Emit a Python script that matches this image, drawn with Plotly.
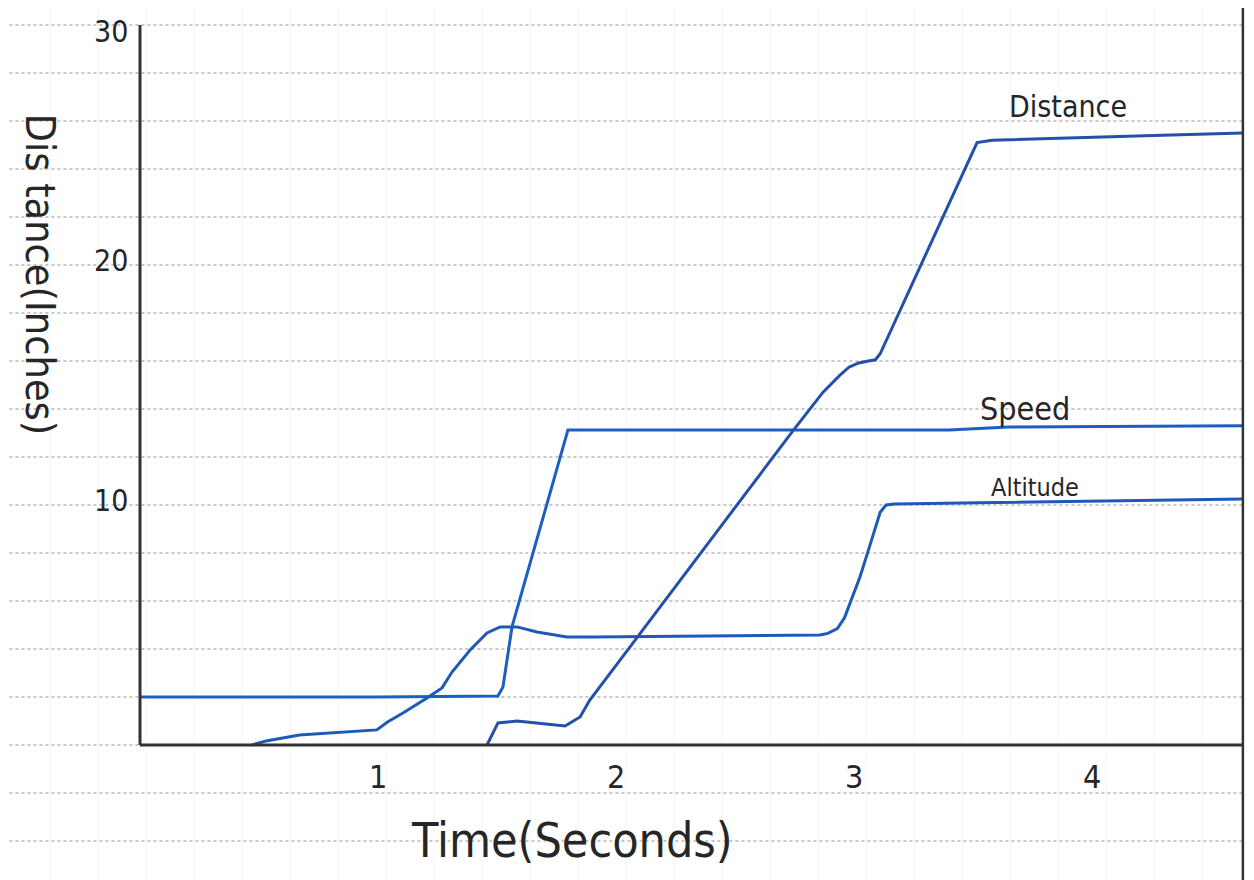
import plotly.graph_objects as go

# values (time in seconds, distance in inches)
speed_time = [0, 0.5, 1.0, 1.504, 1.525, 1.563, 1.798, 2.5, 3.4, 3.65, 4.634]
speed_vals = [2.0, 2.0, 2.0, 2.04, 2.42, 4.92, 13.12, 13.12, 13.13, 13.25, 13.3]

altitude_time = [0.47, 0.53, 0.67, 0.88, 0.995, 1.04, 1.105, 1.206, 1.269, 1.311, 1.387, 1.458,
                 1.513, 1.584, 1.668, 1.794, 1.903, 2.5, 2.857, 2.89, 2.93, 2.96, 2.99, 3.025,
                 3.06, 3.09, 3.11, 3.135, 3.17, 3.6, 4.634]
altitude_vals = [0, 0.17, 0.42, 0.54, 0.63, 0.96, 1.33, 1.96, 2.38, 3.04, 3.96, 4.67,
                 4.92, 4.92, 4.71, 4.5, 4.5, 4.55, 4.58, 4.65, 4.85, 5.3, 6.1, 7.0,
                 8.1, 9.1, 9.7, 10.0, 10.04, 10.1, 10.25]

distance_time = [1.458, 1.504, 1.584, 1.71, 1.786, 1.849, 1.89, 2.017, 2.689, 2.744, 2.87, 2.94,
                 2.98, 3.02, 3.06, 3.09, 3.11, 3.517, 3.58, 3.98, 4.26, 4.634]
distance_vals = [0, 0.92, 1.0, 0.875, 0.79, 1.17, 1.875, 3.54, 12.375, 13.1, 14.7, 15.4,
                 15.75, 15.92, 16.0, 16.05, 16.3, 25.1, 25.2, 25.3, 25.4, 25.5]

x_ticks = [1, 2, 3, 4]
y_ticks = [10, 20, 30]
paper_lines = list(range(-4, 31, 2))   # ruled lines of the notebook page

X_END = 4.634   # right edge of the page / end of the x axis
HAND = "DejaVu Sans Condensed, Liberation Sans Narrow, sans-serif"
INK = "#262626"

fig = go.Figure()

# notebook ruling
for yv in paper_lines:
    fig.add_shape(type="line", x0=-0.7, x1=X_END, y0=yv, y1=yv,
                  line=dict(color="#8f8f8f", width=1, dash="dot"), layer="below")
# faint vertical lines showing through the page
k = 0
while -0.378 + 0.2017 * k < X_END:
    xv = -0.378 + 0.2017 * k
    fig.add_shape(type="line", x0=xv, x1=xv, y0=-7, y1=32,
                  line=dict(color="#f4f4f4", width=1), layer="below")
    k += 1

# axes and page edge
fig.add_shape(type="line", x0=0, x1=0, y0=0, y1=30, line=dict(color="#333333", width=3))
fig.add_shape(type="line", x0=0, x1=X_END, y0=0, y1=0, line=dict(color="#333333", width=3))
fig.add_shape(type="line", x0=X_END, x1=X_END, y0=-7, y1=32, line=dict(color="#333333", width=2.5))

fig.add_trace(go.Scatter(x=speed_time, y=speed_vals, mode="lines", name="Speed",
                         line=dict(color="#1d5fc0", width=3)))
fig.add_trace(go.Scatter(x=altitude_time, y=altitude_vals, mode="lines", name="Altitude",
                         line=dict(color="#1d5ab8", width=3)))
fig.add_trace(go.Scatter(x=distance_time, y=distance_vals, mode="lines", name="Distance",
                         line=dict(color="#2350a8", width=3)))

# tick labels
for t in x_ticks:
    fig.add_annotation(x=t, y=-1.35, text=str(t), showarrow=False,
                       font=dict(family=HAND, size=32, color=INK))
for v in y_ticks:
    fig.add_annotation(x=-0.12, y=min(v + 0.2, 29.75), text=str(v), showarrow=False,
                       font=dict(family=HAND, size=30, color=INK))

# axis titles
fig.add_annotation(x=1.815, y=-3.95, text="Time(Seconds)", showarrow=False,
                   font=dict(family=HAND, size=48, color=INK))
fig.add_annotation(x=-0.42, y=19.6, text="Dis tance(Inches)", showarrow=False, textangle=90,
                   font=dict(family=HAND, size=41, color=INK))

# series labels written next to the lines
fig.add_annotation(x=3.90, y=26.6, text="Distance", showarrow=False,
                   font=dict(family=HAND, size=30, color=INK))
fig.add_annotation(x=3.72, y=14.0, text="Speed", showarrow=False,
                   font=dict(family=HAND, size=32, color=INK))
fig.add_annotation(x=3.76, y=10.75, text="Altitude", showarrow=False,
                   font=dict(family=HAND, size=25, color=INK))

# ranges set so the page (drawn 8px in from the window corner) lines up with the scan
fig.update_xaxes(range=[-132 / 238, 1122 / 238], visible=False)
fig.update_yaxes(range=[-143 / 24, 737 / 24], visible=False)
fig.update_layout(
    width=1254, height=880,
    margin=dict(l=0, r=0, t=0, b=0),
    paper_bgcolor="white", plot_bgcolor="white",
    showlegend=False,
)

fig.write_html("out.html")
